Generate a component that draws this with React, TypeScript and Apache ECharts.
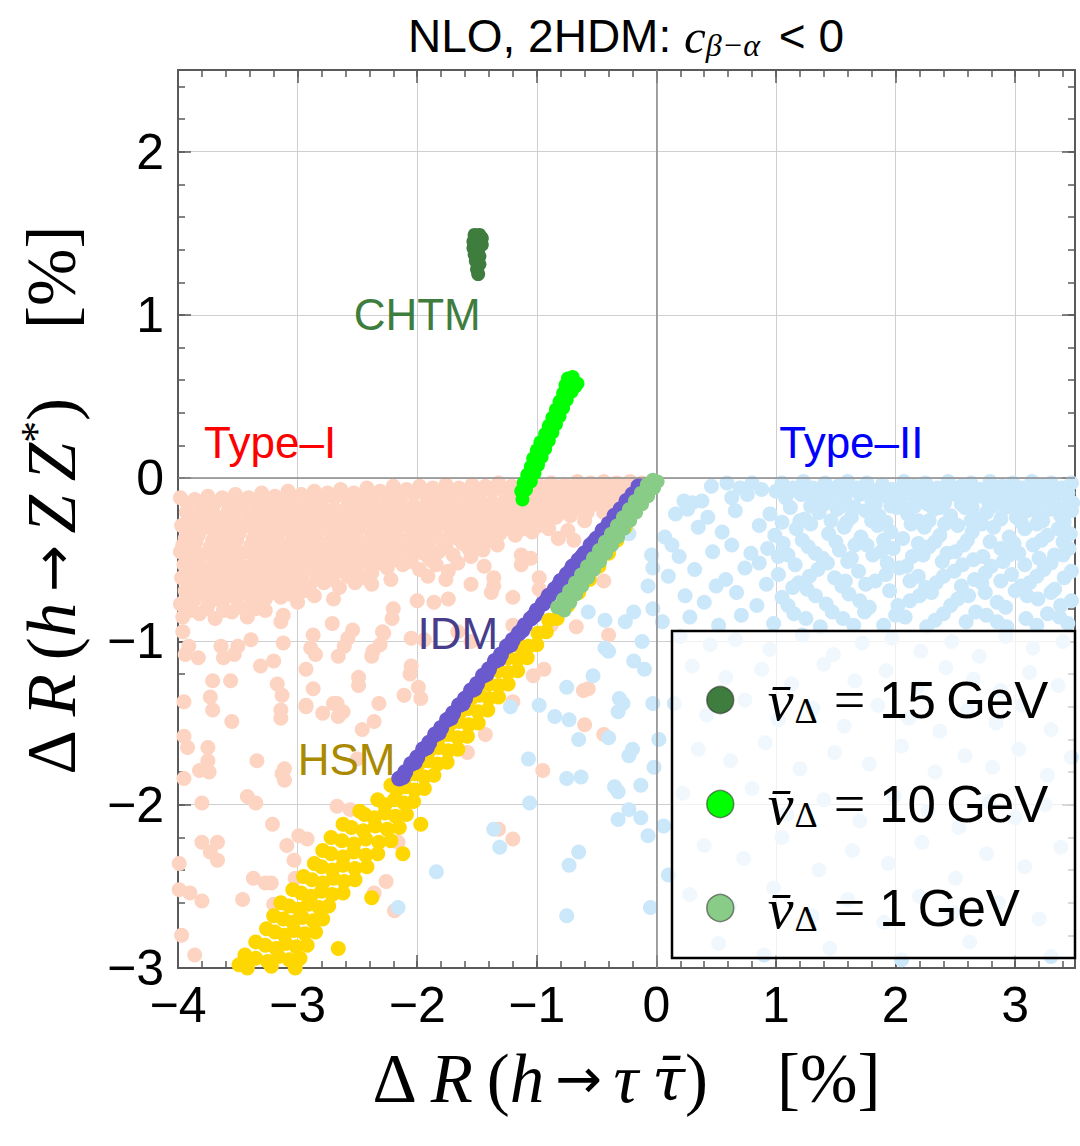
import React, { useEffect, useRef } from 'react';
import * as echarts from 'echarts';

const SERIF = "'Liberation Serif', 'DejaVu Serif', serif";
const SANS = "'Liberation Sans', Arial, sans-serif";

// Axis ranges and labelled ticks
const X_RANGE = [-4, 3.5];
const Y_RANGE = [-3, 2.5];
const X_TICK_VALUES = [-4, -3, -2, -1, 0, 1, 2, 3];
const Y_TICK_VALUES = [-3, -2, -1, 0, 1, 2];

// Type-I 2HDM scan points: dense band below zero plus a sparse tail
const TYPE_I_POINTS: [number, number][] = [
  [-3.98,-0.12],[-3.86,-0.13],[-3.75,-0.11],[-3.63,-0.12],[-3.52,-0.10],[-3.41,-0.12],[-3.30,-0.09],[-3.19,-0.11],[-3.08,-0.08],[-2.97,-0.10],[-2.86,-0.08],[-2.75,-0.09],[-2.64,-0.07],[-2.53,-0.09],[-2.42,-0.06],[-2.31,-0.08],[-2.20,-0.05],[-2.09,-0.07],[-1.98,-0.05],[-1.87,-0.06],[-1.76,-0.04],[-1.65,-0.06],[-1.54,-0.04],[-1.43,-0.05],[-1.32,-0.03],[-1.21,-0.05],[-1.10,-0.03],[-0.99,-0.04],[-0.88,-0.03],[-0.77,-0.04],[-0.66,-0.02],[-0.55,-0.03],[-0.44,-0.02],[-0.33,-0.03],[-0.22,-0.02],[-0.12,-0.03],
  [-3.92,-0.16],[-3.80,-0.17],[-3.69,-0.15],[-3.57,-0.16],[-3.46,-0.14],[-3.35,-0.16],[-3.24,-0.14],[-3.13,-0.13],[-3.02,-0.14],[-2.91,-0.12],[-2.80,-0.13],[-2.69,-0.12],[-2.58,-0.13],[-2.47,-0.11],[-2.36,-0.12],[-2.25,-0.10],[-2.14,-0.11],[-2.03,-0.10],[-1.92,-0.10],[-1.81,-0.09],[-1.70,-0.10],[-1.59,-0.08],[-1.48,-0.09],[-1.37,-0.08],[-1.26,-0.08],[-1.15,-0.07],[-1.04,-0.08],[-0.93,-0.06],[-0.82,-0.06],[-0.71,-0.07],[-0.60,-0.05],[-0.49,-0.06],[-0.38,-0.04],[-0.27,-0.04],[-0.17,-0.05],
  [-3.93,-0.21],[-3.81,-0.19],[-3.70,-0.22],[-3.58,-0.20],[-3.47,-0.18],[-3.36,-0.21],[-3.24,-0.19],[-3.13,-0.17],[-3.02,-0.20],[-2.91,-0.18],[-2.80,-0.16],[-2.69,-0.19],[-2.58,-0.17],[-2.47,-0.15],[-2.36,-0.18],[-2.25,-0.16],[-2.14,-0.14],[-2.03,-0.17],[-1.92,-0.15],[-1.81,-0.13],[-1.70,-0.16],[-1.59,-0.14],[-1.48,-0.12],[-1.37,-0.15],[-1.26,-0.13],[-1.15,-0.11],[-1.04,-0.13],[-0.93,-0.11],[-0.82,-0.10],[-0.71,-0.12],[-0.60,-0.09],[-0.49,-0.10],[-0.38,-0.08],[-0.27,-0.07],[-0.18,-0.09],[-0.30,-0.12],[-0.40,-0.16],
  [-3.88,-0.25],[-3.76,-0.24],[-3.64,-0.26],[-3.53,-0.23],[-3.41,-0.25],[-3.30,-0.23],[-3.19,-0.21],[-3.08,-0.24],[-2.97,-0.22],[-2.86,-0.20],[-2.75,-0.23],[-2.64,-0.21],[-2.53,-0.19],[-2.42,-0.22],[-2.31,-0.20],[-2.20,-0.18],[-2.09,-0.21],[-1.98,-0.19],[-1.87,-0.17],[-1.76,-0.20],[-1.65,-0.18],[-1.54,-0.16],[-1.43,-0.19],[-1.32,-0.17],[-1.21,-0.15],[-1.10,-0.17],[-0.99,-0.15],[-0.88,-0.14],[-0.77,-0.14],[-0.66,-0.12],[-0.55,-0.13],[-0.44,-0.10],[-0.34,-0.09],
  [-3.97,-0.29],[-3.86,-0.27],[-3.74,-0.30],[-3.63,-0.28],[-3.52,-0.26],[-3.40,-0.29],[-3.29,-0.27],[-3.18,-0.25],[-3.07,-0.28],[-2.96,-0.26],[-2.85,-0.24],[-2.74,-0.27],[-2.63,-0.25],[-2.52,-0.23],[-2.41,-0.26],[-2.30,-0.24],[-2.19,-0.22],[-2.08,-0.25],[-1.97,-0.23],[-1.86,-0.21],[-1.75,-0.24],[-1.64,-0.22],[-1.53,-0.20],[-1.42,-0.23],[-1.31,-0.21],[-1.20,-0.19],[-1.09,-0.21],[-0.98,-0.19],[-0.87,-0.17],[-0.76,-0.18],[-0.65,-0.15],[-0.54,-0.16],[-0.43,-0.13],
  [-3.91,-0.33],[-3.80,-0.31],[-3.68,-0.34],[-3.57,-0.32],[-3.46,-0.30],[-3.35,-0.33],[-3.23,-0.31],[-3.12,-0.29],[-3.01,-0.32],[-2.90,-0.30],[-2.79,-0.28],[-2.68,-0.31],[-2.57,-0.29],[-2.46,-0.27],[-2.35,-0.30],[-2.24,-0.28],[-2.13,-0.26],[-2.02,-0.29],[-1.91,-0.27],[-1.80,-0.25],[-1.69,-0.28],[-1.58,-0.26],[-1.47,-0.24],[-1.36,-0.26],[-1.25,-0.24],[-1.14,-0.24],[-1.03,-0.23],[-0.92,-0.23],[-0.81,-0.21],[-0.70,-0.20],[-0.60,-0.18],[-0.50,-0.16],
  [-3.94,-0.37],[-3.83,-0.35],[-3.71,-0.38],[-3.60,-0.36],[-3.49,-0.34],[-3.37,-0.37],[-3.26,-0.35],[-3.15,-0.33],[-3.04,-0.36],[-2.93,-0.34],[-2.82,-0.32],[-2.71,-0.35],[-2.60,-0.33],[-2.49,-0.31],[-2.38,-0.34],[-2.27,-0.32],[-2.16,-0.30],[-2.05,-0.33],[-1.94,-0.31],[-1.83,-0.29],[-1.72,-0.32],[-1.61,-0.30],[-1.50,-0.28],[-1.39,-0.30],[-1.28,-0.27],[-1.17,-0.28],[-1.06,-0.26],[-0.95,-0.27],[-0.84,-0.24],[-0.72,-0.23],[-0.58,-0.21],
  [-3.96,-0.41],[-3.85,-0.39],[-3.73,-0.42],[-3.62,-0.40],[-3.51,-0.38],[-3.39,-0.41],[-3.28,-0.39],[-3.17,-0.37],[-3.06,-0.40],[-2.95,-0.38],[-2.84,-0.36],[-2.73,-0.39],[-2.62,-0.37],[-2.51,-0.35],[-2.40,-0.38],[-2.29,-0.36],[-2.18,-0.34],[-2.07,-0.37],[-1.96,-0.35],[-1.85,-0.33],[-1.74,-0.36],[-1.63,-0.33],[-1.52,-0.32],[-1.40,-0.33],[-1.25,-0.31],[-1.12,-0.31],[-0.98,-0.29],
  [-3.98,-0.45],[-3.87,-0.43],[-3.76,-0.46],[-3.64,-0.44],[-3.53,-0.42],[-3.42,-0.45],[-3.31,-0.43],[-3.20,-0.41],[-3.09,-0.44],[-2.98,-0.42],[-2.87,-0.40],[-2.76,-0.43],[-2.65,-0.41],[-2.54,-0.39],[-2.43,-0.42],[-2.32,-0.40],[-2.21,-0.38],[-2.10,-0.41],[-1.99,-0.39],[-1.88,-0.37],[-1.77,-0.40],[-1.66,-0.37],[-1.55,-0.35],[-1.43,-0.37],[-1.31,-0.34],[-1.18,-0.35],[-1.04,-0.33],[-0.90,-0.31],
  [-3.92,-0.49],[-3.81,-0.47],[-3.69,-0.50],[-3.58,-0.48],[-3.47,-0.46],[-3.35,-0.49],[-3.24,-0.47],[-3.13,-0.45],[-3.02,-0.48],[-2.91,-0.46],[-2.80,-0.44],[-2.69,-0.47],[-2.58,-0.45],[-2.47,-0.43],[-2.36,-0.46],[-2.25,-0.44],[-2.14,-0.42],[-2.02,-0.45],[-1.90,-0.42],[-1.76,-0.42],[-1.62,-0.40],[-1.50,-0.40],[-1.38,-0.38],
  [-3.95,-0.53],[-3.84,-0.51],[-3.72,-0.54],[-3.61,-0.52],[-3.50,-0.50],[-3.38,-0.53],[-3.27,-0.51],[-3.16,-0.49],[-3.05,-0.52],[-2.94,-0.50],[-2.83,-0.48],[-2.72,-0.51],[-2.61,-0.49],[-2.50,-0.47],[-2.39,-0.50],[-2.28,-0.48],[-2.17,-0.46],[-2.06,-0.49],[-1.95,-0.46],[-1.82,-0.45],[-1.70,-0.47],[-1.57,-0.43],[-1.45,-0.44],[-1.33,-0.41],
  [-3.91,-0.57],[-3.80,-0.55],[-3.68,-0.58],[-3.57,-0.56],[-3.46,-0.54],[-3.34,-0.57],[-3.23,-0.55],[-3.12,-0.53],[-3.01,-0.56],[-2.90,-0.54],[-2.79,-0.52],[-2.68,-0.55],[-2.56,-0.53],[-2.44,-0.51],[-2.31,-0.52],[-2.19,-0.50],[-2.05,-0.51],[-1.90,-0.49],
  [-3.97,-0.61],[-3.86,-0.59],[-3.74,-0.62],[-3.63,-0.60],[-3.52,-0.58],[-3.40,-0.61],[-3.29,-0.59],[-3.18,-0.57],[-3.07,-0.60],[-2.96,-0.58],[-2.85,-0.56],[-2.74,-0.59],[-2.62,-0.57],[-2.50,-0.55],[-2.38,-0.58],[-2.25,-0.55],[-2.12,-0.53],[-1.98,-0.56],[-1.84,-0.53],[-1.66,-0.52],
  [-3.90,-0.65],[-3.78,-0.63],[-3.66,-0.66],[-3.55,-0.64],[-3.43,-0.62],[-3.32,-0.65],[-3.20,-0.62],[-3.08,-0.62],[-2.96,-0.63],[-2.84,-0.60],[-2.71,-0.62],[-2.58,-0.60],[-2.45,-0.61],
  [-3.94,-0.69],[-3.83,-0.67],[-3.71,-0.70],[-3.60,-0.68],[-3.49,-0.66],[-3.37,-0.69],[-3.26,-0.67],[-3.14,-0.65],[-3.02,-0.68],[-2.90,-0.66],[-2.78,-0.64],[-2.65,-0.67],[-2.52,-0.64],[-2.38,-0.65],[-2.22,-0.62],
  [-3.92,-0.73],[-3.80,-0.71],[-3.68,-0.74],[-3.56,-0.72],[-3.44,-0.70],[-3.32,-0.72],[-3.20,-0.70],[-3.07,-0.71],[-2.94,-0.69],
  [-3.98,-0.77],[-3.87,-0.75],[-3.75,-0.78],[-3.63,-0.76],[-3.51,-0.74],[-3.39,-0.77],[-3.27,-0.74],[-3.14,-0.73],[-3.00,-0.76],[-2.86,-0.72],[-2.70,-0.74],
  [-3.90,-0.81],[-3.76,-0.80],[-3.62,-0.81],[-3.49,-0.79],[-3.35,-0.80],
  [-3.96,-0.85],[-3.82,-0.83],[-3.69,-0.86],[-3.55,-0.82],[-3.42,-0.85],[-3.27,-0.81],[-3.12,-0.84],
  [-1.87,-0.51],[-1.55,-0.48],[-1.44,-0.54],[-1.20,-0.73],[-1.13,-0.53],[-1.05,-0.49],[-0.98,-0.61],[-0.82,-0.37],[-0.69,-0.38],[-0.67,-0.91],[-0.57,-1.29],[-0.44,-0.21],[-0.44,-0.63],[-0.40,-0.96],[-0.94,-1.17],[-1.03,-1.21],[-1.38,-0.70],[-1.36,-0.66],[-1.55,-0.65],[-1.74,-0.57],[-1.76,-0.62],[-1.91,-0.60],[-2.00,-0.75],[-1.86,-0.76],[-1.74,-0.74],[-2.05,-0.98],[-1.94,-0.99],[-2.20,-0.80],[-2.21,-0.86],[-2.29,-0.94],[-2.37,-1.06],[-2.31,-1.02],[-2.54,-0.93],[-2.58,-0.98],[-2.61,-1.03],[-2.66,-1.09],[-2.71,-0.89],[-2.87,-0.96],[-2.89,-1.04],[-2.85,-1.08],[-2.93,-1.17],[-3.12,-1.01],[-3.14,-0.88],[-3.20,-1.12],[-3.31,-1.15],[-3.39,-0.99],[-3.50,-1.03],[-3.53,-1.08],[-3.62,-1.10],[-3.64,-1.03],[-3.71,-1.24],[-3.83,-1.10],[-3.91,-1.03],[-3.94,-1.08],[-3.96,-0.94],[-3.95,-1.37],[-3.73,-1.34],[-3.56,-1.24],[-3.17,-1.26],[-3.13,-1.33],[-2.93,-1.39],[-2.87,-1.29],[-2.70,-1.38],[-2.49,-1.22],[-2.49,-1.27],[-2.05,-1.15],[-2.06,-1.20],[-1.99,-1.28],[-2.11,-1.33],[-1.97,-1.35],[-2.28,-0.95],[-2.38,-1.09],[-1.55,-1.00],[-1.66,-0.94],[-0.88,-0.90],[-0.98,-0.68],[-1.13,-0.47],[-1.36,-0.61],[-1.20,-0.90],[-0.61,-1.30],[-0.61,-0.20],[-0.74,-0.32],[-0.60,-0.26],
  [-3.71,-1.42],[-3.95,-1.58],[-3.92,-1.65],[-3.75,-1.65],[-3.75,-1.73],[-3.82,-1.79],[-3.74,-1.80],[-3.95,-1.84],[-3.55,-1.49],[-3.14,-1.42],[-3.14,-1.47],[-2.93,-1.40],[-2.79,-1.44],[-2.67,-1.38],[-2.62,-1.43],[-2.66,-1.46],[-2.32,-1.38],[-2.36,-1.49],[-2.46,-1.54],[-2.50,-1.72],[-3.34,-1.73],[-3.13,-1.81],[-3.11,-1.85],[-3.11,-1.78],[-3.42,-1.95],[-3.35,-1.99],[-3.80,-1.99],[-3.21,-2.12],[-3.09,-2.25],[-2.99,-2.19],[-2.92,-2.21],[-3.03,-2.34],[-3.80,-2.23],[-3.67,-2.23],[-3.73,-2.29],[-3.67,-2.34],[-3.99,-2.36],[-3.37,-2.45],[-3.27,-2.48],[-3.22,-2.48],[-3.02,-2.45],[-3.90,-2.54],[-3.80,-2.59],[-3.46,-2.58],[-3.20,-2.61],[-3.99,-2.52],[-2.67,-2.01],[-2.56,-2.03],[-2.16,-2.23],[-2.26,-2.47],[-2.36,-2.54],[-2.19,-2.65],[-1.58,-1.68],[-1.43,-1.57],[-1.20,-1.37],[-0.60,-1.51],[-0.44,-1.57],[-0.95,-1.79],[-1.32,-2.15],[-1.20,-2.21],[-3.97,-2.80],[-3.86,-2.92]
];

// Type-II 2HDM scan points
const TYPE_II_POINTS: [number, number][] = [
  [0.46,-0.05],[0.59,-0.03],[0.70,-0.06],[0.80,-0.03],[0.88,-0.07],[1.05,-0.03],[1.14,-0.06],[1.23,-0.02],[1.31,-0.06],[1.41,-0.03],[1.52,-0.05],[1.60,-0.02],[1.68,-0.06],[1.76,-0.03],[1.89,-0.04],[1.97,-0.07],[2.07,-0.02],[2.16,-0.05],[2.25,-0.03],[2.35,-0.06],[2.44,-0.02],[2.55,-0.05],[2.63,-0.03],[2.71,-0.07],[2.79,-0.02],[2.89,-0.05],[2.98,-0.03],[3.06,-0.06],[3.14,-0.02],[3.22,-0.05],[3.30,-0.03],[3.39,-0.06],[3.47,-0.03],
  [1.00,-0.08],[1.10,-0.09],[1.19,-0.07],[1.28,-0.09],[1.37,-0.08],[1.47,-0.08],[1.56,-0.09],[1.64,-0.07],[1.73,-0.09],[1.84,-0.08],[1.93,-0.09],[2.03,-0.07],[2.12,-0.09],[2.20,-0.08],[2.30,-0.09],[2.39,-0.07],[2.49,-0.09],[2.58,-0.08],[2.67,-0.08],[2.75,-0.10],[2.84,-0.08],[2.93,-0.09],[3.02,-0.08],[3.10,-0.09],[3.18,-0.08],[3.27,-0.09],[3.35,-0.08],[3.44,-0.09],
  [0.30,-0.15],[0.63,-0.12],[0.76,-0.10],[1.08,-0.12],[1.21,-0.10],[1.33,-0.13],[1.46,-0.11],[1.58,-0.14],[1.70,-0.10],[1.80,-0.13],[1.92,-0.11],[2.02,-0.14],[2.12,-0.10],[2.21,-0.13],[2.31,-0.11],[2.41,-0.15],[2.50,-0.10],[2.60,-0.13],[2.69,-0.11],[2.78,-0.15],[2.87,-0.11],[2.96,-0.13],[3.05,-0.10],[3.14,-0.14],[3.23,-0.11],[3.32,-0.13],[3.42,-0.10],[3.48,-0.15],[0.23,-0.14],[0.38,-0.14],
  [1.29,-0.17],[1.40,-0.16],[1.55,-0.17],[1.66,-0.18],[1.83,-0.16],[1.96,-0.17],[2.06,-0.18],[2.16,-0.17],[2.27,-0.16],[2.37,-0.18],[2.55,-0.16],[2.64,-0.18],[2.82,-0.17],[2.97,-0.16],[3.06,-0.18],[3.16,-0.17],[3.26,-0.16],[3.35,-0.18],[3.44,-0.17],
  [0.16,-0.22],[0.26,-0.19],[0.43,-0.24],[0.66,-0.20],[0.95,-0.22],[1.12,-0.18],[1.24,-0.25],[1.36,-0.21],[1.51,-0.19],[1.63,-0.24],[1.75,-0.20],[1.86,-0.23],[2.01,-0.18],[2.10,-0.22],[2.19,-0.26],[2.32,-0.19],[2.46,-0.23],[2.58,-0.18],[2.67,-0.25],[2.76,-0.21],[2.92,-0.18],[3.01,-0.24],[3.10,-0.20],[3.20,-0.24],[3.29,-0.19],[3.38,-0.23],[3.47,-0.20],
  [1.05,-0.27],[1.20,-0.26],[1.46,-0.26],[1.59,-0.27],[1.80,-0.26],[1.92,-0.27],[2.13,-0.28],[2.28,-0.26],[2.41,-0.28],[2.63,-0.26],[2.72,-0.28],[2.88,-0.25],[3.05,-0.27],[3.23,-0.26],[3.41,-0.27],
  [0.07,-0.36],[0.35,-0.30],[0.55,-0.33],[0.86,-0.29],[0.99,-0.35],[1.17,-0.31],[1.29,-0.28],[1.44,-0.34],[1.57,-0.30],[1.71,-0.36],[1.85,-0.29],[1.96,-0.33],[2.06,-0.37],[2.24,-0.30],[2.37,-0.35],[2.52,-0.29],[2.64,-0.33],[2.82,-0.30],[2.95,-0.36],[3.08,-0.31],[3.18,-0.28],[3.27,-0.35],[3.36,-0.31],[3.46,-0.34],
  [1.06,-0.40],[1.22,-0.38],[1.50,-0.39],[1.76,-0.41],[1.90,-0.38],[2.19,-0.40],[2.33,-0.39],[2.60,-0.38],[2.79,-0.39],[2.99,-0.40],[3.22,-0.38],[3.40,-0.39],
  [0.13,-0.41],[0.19,-0.48],[0.47,-0.45],[0.63,-0.41],[0.79,-0.46],[0.93,-0.43],[1.10,-0.47],[1.27,-0.42],[1.39,-0.49],[1.53,-0.44],[1.66,-0.41],[1.81,-0.47],[1.98,-0.43],[2.14,-0.48],[2.28,-0.42],[2.43,-0.46],[2.57,-0.41],[2.73,-0.48],[2.88,-0.43],[3.03,-0.46],[3.15,-0.41],[3.33,-0.47],[3.45,-0.43],
  [1.02,-0.48],[1.33,-0.46],[1.63,-0.49],[1.88,-0.45],[2.23,-0.47],[2.50,-0.45],[2.65,-0.50],[2.95,-0.47],[3.20,-0.49],[3.40,-0.47],
  [0.86,-0.52],[1.16,-0.53],[1.43,-0.52],[1.60,-0.51],[1.93,-0.52],[2.09,-0.54],[2.39,-0.51],[2.56,-0.53],[2.90,-0.51],[3.08,-0.53],[3.30,-0.52],
  [0.10,-0.60],[0.32,-0.56],[0.58,-0.62],[0.74,-0.55],[1.02,-0.59],[1.19,-0.64],[1.35,-0.56],[1.49,-0.61],[1.69,-0.57],[1.83,-0.63],[2.03,-0.55],[2.19,-0.60],[2.34,-0.64],[2.49,-0.57],[2.66,-0.62],[2.80,-0.54],[2.97,-0.59],[3.12,-0.64],[3.24,-0.56],[3.41,-0.61],
  [1.28,-0.60],[1.58,-0.63],[1.92,-0.59],[2.12,-0.63],[2.40,-0.60],[2.75,-0.58],[2.88,-0.63],[3.18,-0.60],[3.47,-0.57],
  [0.50,-0.66],[0.92,-0.65],[1.14,-0.67],[1.55,-0.66],[1.75,-0.65],[2.25,-0.67],[2.55,-0.66],[2.72,-0.64],[3.05,-0.66],[3.33,-0.68],
  [0.24,-0.72],[0.40,-0.76],[0.67,-0.70],[0.84,-0.78],[1.05,-0.73],[1.26,-0.68],[1.42,-0.77],[1.61,-0.71],[1.78,-0.79],[1.95,-0.69],[2.12,-0.75],[2.30,-0.70],[2.46,-0.78],[2.61,-0.72],[2.85,-0.76],[3.00,-0.69],[3.19,-0.74],[3.38,-0.78],
  [1.10,-0.78],[1.33,-0.72],[1.70,-0.75],[2.02,-0.78],[2.20,-0.72],[2.52,-0.74],[2.75,-0.70],[2.92,-0.79],[3.10,-0.72],[3.30,-0.70],[3.47,-0.75],
  [0.05,-0.88],[0.28,-0.85],[0.52,-0.90],[0.71,-0.84],[0.98,-0.89],[1.15,-0.83],[1.37,-0.91],[1.56,-0.86],[1.74,-0.82],[1.90,-0.90],[2.08,-0.85],[2.26,-0.91],[2.40,-0.83],[2.59,-0.88],[2.76,-0.84],[2.93,-0.91],[3.09,-0.86],[3.27,-0.83],[3.44,-0.89],
  [1.25,-0.86],[1.47,-0.82],[1.65,-0.90],[2.00,-0.84],[2.33,-0.87],[2.67,-0.82],[2.85,-0.88],[3.18,-0.90],[3.37,-0.85],
  [0.20,-0.97],[0.45,-1.02],[0.66,-0.99],[0.95,-1.05],[1.22,-0.96],[1.48,-1.08],[1.72,-1.01],[1.97,-0.98],[2.21,-1.06],[2.47,-1.00],[2.70,-1.09],[2.92,-0.97],[3.15,-1.04],[3.40,-1.00],
  [0.30,-1.15],[0.58,-1.22],[0.88,-1.17],[1.13,-1.26],[1.40,-1.14],[1.66,-1.24],[1.92,-1.18],[2.18,-1.28],[2.42,-1.16],[2.65,-1.23],[2.88,-1.30],[3.12,-1.19],[3.36,-1.27],
  [0.15,-1.38],[0.42,-1.45],[0.74,-1.36],[1.02,-1.48],[1.31,-1.41],[1.57,-1.52],[1.85,-1.39],[2.11,-1.47],[2.37,-1.55],[2.60,-1.42],[2.84,-1.50],[3.06,-1.39],[3.30,-1.54],
  [0.35,-1.66],[0.62,-1.73],[0.91,-1.62],[1.20,-1.78],[1.49,-1.68],[1.78,-1.75],[2.05,-1.64],[2.33,-1.80],[2.58,-1.70],[2.81,-1.77],[3.03,-1.66],[3.27,-1.82],[3.47,-1.71],
  [0.22,-1.93],[0.50,-2.01],[0.80,-1.90],[1.09,-2.06],[1.40,-1.97],[1.70,-2.10],[1.99,-1.95],[2.27,-2.04],[2.53,-2.14],[2.78,-1.98],[3.00,-2.08],[3.25,-2.00],
  [0.40,-2.25],[0.73,-2.33],[1.05,-2.20],[1.36,-2.40],[1.64,-2.28],[1.94,-2.36],[2.22,-2.23],[2.50,-2.45],[2.76,-2.30],[3.08,-2.38],[3.38,-2.26],
  [0.28,-2.55],[0.61,-2.62],[0.98,-2.51],[1.30,-2.68],[1.60,-2.58],[1.90,-2.72],[2.20,-2.56],[2.48,-2.66],[2.86,-2.60],[3.20,-2.70],
  [0.52,-2.85],[0.90,-2.92],[1.45,-2.88],[2.05,-2.95],[2.62,-2.84],[3.30,-2.93],
  [-0.23,-0.34],[-0.04,-0.47],[-0.03,-0.55],[-0.07,-0.66],[-0.19,-0.82],[-0.03,-0.80],[-0.57,-0.82],[-0.43,-0.87],[-0.26,-0.88],[-0.12,-1.00],[-0.43,-1.04],[-0.40,-1.06],[-0.19,-1.12],[-0.10,-1.17],[-0.53,-1.21],[-0.75,-1.28],[-0.31,-1.35],[-0.28,-1.38],[-0.03,-1.38],[-1.22,-1.40],[-0.98,-1.39],[-0.85,-1.46],[-0.73,-1.48],[-0.65,-1.60],[-0.40,-1.59],[-0.32,-1.43],[0.02,-1.60],[-1.07,-1.72],[-0.75,-1.84],[-0.63,-1.83],[-0.23,-1.70],[-0.20,-1.66],[-0.02,-1.77],[-0.35,-1.89],[-0.32,-1.92],[-0.13,-1.88],[-1.06,-1.99],[-0.23,-2.03],[-0.32,-2.09],[-0.13,-2.08],[0.06,-2.13],[-1.36,-2.15],[-1.31,-2.26],[-0.07,-2.19],[-0.65,-2.29],[-0.73,-2.37],[-1.84,-2.41],[0.10,-2.43],[-2.16,-2.63],[-0.75,-2.68],[-0.05,-2.63]
];

// HSM points
const HSM_POINTS: [number, number][] = [
  [-0.26,-0.30],[-0.33,-0.38],[-0.40,-0.46],[-0.48,-0.54],[-0.56,-0.62],[-0.65,-0.70],
  [-0.74,-0.78],[-0.80,-0.79],[-0.83,-0.86],[-0.90,-0.87],[-0.92,-0.94],[-0.99,-0.95],
  [-1.00,-1.02],[-1.07,-1.03],[-1.14,-1.03],
  [-1.08,-1.10],[-1.16,-1.11],[-1.24,-1.10],
  [-1.16,-1.18],[-1.24,-1.19],[-1.32,-1.18],
  [-1.24,-1.26],[-1.32,-1.27],[-1.40,-1.26],
  [-1.32,-1.34],[-1.40,-1.35],[-1.48,-1.33],[-1.55,-1.35],
  [-1.41,-1.42],[-1.49,-1.43],[-1.57,-1.41],[-1.64,-1.43],
  [-1.49,-1.50],[-1.57,-1.51],[-1.65,-1.49],[-1.73,-1.51],
  [-1.58,-1.58],[-1.66,-1.59],[-1.74,-1.57],[-1.82,-1.59],
  [-1.66,-1.66],[-1.74,-1.67],[-1.82,-1.65],[-1.90,-1.67],
  [-1.75,-1.74],[-1.83,-1.75],[-1.91,-1.73],[-1.99,-1.75],
  [-1.86,-1.82],[-1.94,-1.83],[-2.02,-1.81],[-2.10,-1.83],
  [-1.94,-1.90],[-2.02,-1.91],[-2.10,-1.89],[-2.17,-1.91],[-2.22,-1.88],
  [-2.03,-1.98],[-2.11,-1.99],[-2.19,-1.97],[-2.27,-2.00],[-2.33,-1.97],
  [-2.09,-2.06],[-2.18,-2.07],[-2.27,-2.05],[-2.36,-2.08],[-2.44,-2.06],[-2.48,-2.04],
  [-2.15,-2.14],[-2.25,-2.15],[-2.35,-2.13],[-2.45,-2.16],[-2.55,-2.14],[-2.62,-2.12],
  [-2.22,-2.22],[-2.32,-2.23],[-2.43,-2.21],[-2.53,-2.24],[-2.63,-2.22],[-2.72,-2.20],
  [-2.33,-2.30],[-2.43,-2.31],[-2.53,-2.29],[-2.62,-2.32],[-2.72,-2.30],[-2.79,-2.28],
  [-2.42,-2.38],[-2.52,-2.39],[-2.62,-2.37],[-2.71,-2.40],[-2.80,-2.38],[-2.86,-2.36],
  [-2.52,-2.46],[-2.61,-2.47],[-2.70,-2.45],[-2.79,-2.48],[-2.88,-2.46],[-2.95,-2.44],
  [-2.62,-2.54],[-2.71,-2.55],[-2.80,-2.53],[-2.89,-2.56],[-2.97,-2.54],[-3.04,-2.52],
  [-2.74,-2.62],[-2.82,-2.63],[-2.91,-2.61],[-2.99,-2.64],[-3.07,-2.62],[-3.14,-2.60],
  [-2.79,-2.70],[-2.87,-2.71],[-2.96,-2.69],[-3.04,-2.72],[-3.12,-2.70],[-3.20,-2.68],
  [-2.85,-2.78],[-2.94,-2.79],[-3.03,-2.77],[-3.11,-2.80],[-3.19,-2.78],[-3.26,-2.76],
  [-2.92,-2.86],[-3.01,-2.87],[-3.10,-2.85],[-3.18,-2.88],[-3.27,-2.86],[-3.35,-2.84],
  [-2.98,-2.94],[-3.07,-2.95],[-3.16,-2.93],[-3.25,-2.96],[-3.35,-2.94],[-3.44,-2.92],
  [-3.02,-3.00],[-3.12,-3.01],[-3.22,-2.99],[-3.32,-3.02],[-3.42,-3.00],[-3.49,-2.98],
  [-1.97,-2.12],[-2.12,-2.30],[-2.38,-2.57],[-2.66,-2.88]
];

// IDM points
const IDM_POINTS: [number, number][] = [
  [-2.15,-1.84],[-2.10,-1.80],[-2.05,-1.75],[-2.00,-1.71],[-1.95,-1.66],[-1.90,-1.62],[-1.85,-1.57],[-1.80,-1.53],[-1.75,-1.48],[-1.70,-1.44],[-1.65,-1.39],[-1.60,-1.35],[-1.55,-1.30],[-1.50,-1.26],[-1.45,-1.21],[-1.40,-1.17],[-1.35,-1.12],[-1.30,-1.08],[-1.25,-1.03],[-1.20,-0.99],[-1.15,-0.95],[-1.10,-0.90],[-1.05,-0.86],[-1.00,-0.81],[-0.95,-0.77],[-0.90,-0.72],[-0.85,-0.68],[-0.80,-0.63],[-0.75,-0.59],[-0.70,-0.54],[-0.65,-0.50],[-0.60,-0.46],[-0.55,-0.41],[-0.50,-0.37],[-0.45,-0.32],[-0.40,-0.28],[-0.35,-0.23],[-0.30,-0.19],[-0.25,-0.14],[-0.20,-0.10],[-0.15,-0.05],
  [-2.12,-1.83],[-2.02,-1.74],[-1.92,-1.65],[-1.82,-1.56],[-1.72,-1.47],[-1.62,-1.38],[-1.52,-1.29],[-1.42,-1.20],[-1.32,-1.11],[-1.22,-1.02],[-1.12,-0.93],[-1.02,-0.84],[-0.92,-0.75],[-0.82,-0.66],[-0.72,-0.57],[-0.62,-0.48],[-0.52,-0.39],[-0.42,-0.31],[-0.32,-0.22],[-0.22,-0.13]
];

// CHTM points for three triplet vevs (GeV)
const CHTM_VEV = ['15', '10', '1'];
const CHTM_V1_POINTS: [number, number][] = [
  [-0.83,-0.79],[-0.77,-0.81],[-0.78,-0.74],[-0.72,-0.76],[-0.73,-0.69],[-0.67,-0.71],[-0.68,-0.64],[-0.62,-0.66],[-0.63,-0.59],[-0.57,-0.61],[-0.58,-0.54],[-0.52,-0.56],[-0.53,-0.49],[-0.47,-0.51],[-0.48,-0.44],[-0.42,-0.46],[-0.43,-0.39],[-0.37,-0.41],[-0.38,-0.34],[-0.32,-0.36],[-0.33,-0.29],[-0.27,-0.31],[-0.28,-0.24],[-0.22,-0.26],[-0.23,-0.19],[-0.17,-0.21],[-0.18,-0.14],[-0.12,-0.16],[-0.13,-0.09],[-0.07,-0.11],[-0.08,-0.04],[-0.02,-0.06],[-0.03,-0.01],[0.01,-0.02]
];
const CHTM_V10_POINTS: [number, number][] = [
  [-1.12,-0.13],[-1.13,-0.08],[-1.09,-0.07],[-1.11,-0.03],[-1.05,-0.02],[-1.08,0.02],[-1.02,0.03],[-1.05,0.07],[-0.99,0.08],[-1.03,0.12],[-0.96,0.13],[-1.00,0.17],[-0.93,0.18],[-0.97,0.22],[-0.90,0.23],[-0.93,0.27],[-0.87,0.28],[-0.90,0.32],[-0.84,0.33],[-0.87,0.37],[-0.81,0.38],[-0.84,0.42],[-0.78,0.43],[-0.81,0.47],[-0.75,0.48],[-0.78,0.52],[-0.71,0.53],[-0.76,0.57],[-0.68,0.56],[-0.74,0.61],[-0.70,0.62],[-0.66,0.58]
];
const CHTM_V15_POINTS: [number, number][] = [
  [-1.52,1.49],[-1.48,1.49],[-1.46,1.47],[-1.53,1.45],[-1.49,1.45],[-1.46,1.43],[-1.53,1.41],[-1.49,1.40],[-1.52,1.37],[-1.48,1.36],[-1.51,1.33],[-1.48,1.31],[-1.50,1.28],[-1.49,1.25]
];

// Model name annotations, anchored in data coordinates
const ANNOTATIONS = [
  { text: 'Type\u2013I', at: [-3.23, 0.22], color: '#ff0000' },
  { text: 'Type\u2013II', at: [1.63, 0.22], color: '#0000ff' },
  { text: 'CHTM', at: [-2.0, 1.0], color: '#3e7d3e' },
  { text: 'IDM', at: [-1.66, -0.95], color: '#483d8b' },
  { text: 'HSM', at: [-2.59, -1.72], color: '#a98a00' },
];

const FRAME = '#5a5a5a';

const fmtTick = (allowed: number[]) => (v: number) => {
  const r = Math.round(v * 1000) / 1000;
  if (!allowed.includes(r)) return '';
  return r < 0 ? '\u2212' + Math.abs(r) : String(r);
};

function frameAxis(position: string, range: number[], interval: number, tickLen: number, line = false) {
  return {
    type: 'value',
    position,
    min: range[0],
    max: range[1],
    interval,
    axisLine: { show: line, onZero: false, lineStyle: { color: FRAME, width: 2 } },
    axisTick: { show: true, inside: true, length: tickLen, lineStyle: { color: FRAME, width: 1.5 } },
    axisLabel: { show: false },
    splitLine: { show: false },
  };
}

const NAME_SIZE = 69;
const axisNameRich = {
  up: { fontFamily: SERIF, fontSize: NAME_SIZE, color: '#000' },
  it: { fontFamily: SERIF, fontSize: NAME_SIZE, fontStyle: 'italic', color: '#000' },
  bar: { fontFamily: "'DejaVu Serif', serif", fontSize: 60, fontStyle: 'italic', color: '#000' },
  arr: { fontFamily: "'DejaVu Sans', sans-serif", fontSize: 56, color: '#000' },
  sup: { fontFamily: SERIF, fontSize: 44, color: '#000', padding: [0, 0, 32, 0] },
};

function buildOption() {
  const scatter = (name: string, data: [number, number][], color: string, size: number, z = 2) => ({
    name,
    type: 'scatter',
    data,
    symbol: 'circle',
    symbolSize: size,
    itemStyle: { color, opacity: 1 },
    silent: true,
    z,
  });

  return {
    animation: false,
    backgroundColor: '#ffffff',
    grid: { left: 178, right: 5, top: 70, bottom: 178, containLabel: false },
    xAxis: [
      {
        type: 'value',
        position: 'bottom',
        min: X_RANGE[0],
        max: X_RANGE[1],
        interval: 1,
        axisLine: { show: true, onZero: false, lineStyle: { color: FRAME, width: 2 } },
        axisTick: { show: true, inside: true, length: 13, lineStyle: { color: FRAME, width: 1.5 } },
        splitLine: { show: true, lineStyle: { color: '#cfcfcf', width: 1 } },
        axisLabel: {
          formatter: fmtTick(X_TICK_VALUES),
          fontFamily: SANS,
          fontSize: 50,
          color: '#000',
          margin: 12,
        },
        name: '{up|\u0394\u2009}{it|R}{up|\u2009(}{it|h}{arr|\u2009\u2192\u2009}{it|\u03c4\u2009}{bar|\u03c4\u0304}{up|)\u2003[%]}',
        nameLocation: 'middle',
        nameGap: 76,
        nameTextStyle: { rich: axisNameRich },
      },
      frameAxis('top', X_RANGE, 1, 13, true),
      frameAxis('bottom', X_RANGE, 0.2, 7),
      frameAxis('top', X_RANGE, 0.2, 7),
    ],
    yAxis: [
      {
        type: 'value',
        position: 'left',
        min: Y_RANGE[0],
        max: Y_RANGE[1],
        interval: 1,
        axisLine: { show: true, onZero: false, lineStyle: { color: FRAME, width: 2 } },
        axisTick: { show: true, inside: true, length: 13, lineStyle: { color: FRAME, width: 1.5 } },
        splitLine: { show: true, lineStyle: { color: '#cfcfcf', width: 1 } },
        axisLabel: {
          formatter: fmtTick(Y_TICK_VALUES),
          fontFamily: SANS,
          fontSize: 50,
          color: '#000',
          margin: 14,
        },
        name: '{up|\u0394\u2009}{it|R}{up|\u2009(}{it|h}{arr|\u2009\u2192\u2009}{it|Z\u2009Z}{sup|*}{up|)\u2003[%]}',
        nameLocation: 'middle',
        nameRotate: 90,
        nameGap: 88,
        nameTextStyle: { rich: axisNameRich, padding: [0, 0, 0, 38] },
      },
      frameAxis('right', Y_RANGE, 1, 13, true),
      frameAxis('left', Y_RANGE, 0.2, 7),
      frameAxis('right', Y_RANGE, 0.2, 7),
    ],
    legend: {
      data: CHTM_VEV,
      orient: 'vertical',
      left: 706,
      top: 671,
      padding: 0,
      itemWidth: 27,
      itemHeight: 27,
      itemGap: 46,
      icon: 'circle',
      selectedMode: false,
      z: 60,
      itemStyle: { borderColor: 'rgba(40,40,40,0.55)', borderWidth: 1.5 },
      formatter: (name: string) => `{v|v\u0304}{sub|\u0394}{eq|=}{num|${name}\u2009GeV}`,
      textStyle: {
        rich: {
          v: { fontFamily: SERIF, fontStyle: 'italic', fontSize: 58, lineHeight: 56, color: '#000', padding: [0, 0, 0, 29] },
          sub: { fontFamily: SERIF, fontSize: 36, lineHeight: 36, color: '#000', padding: [22, 0, 0, 1] },
          eq: { fontFamily: SERIF, fontSize: 56, lineHeight: 56, color: '#000', padding: [0, 14, 0, 16] },
          num: { fontFamily: SANS, fontSize: 51, lineHeight: 56, color: '#000' },
        },
      },
    },
    graphic: [
      {
        type: 'text',
        x: 626,
        y: 36,
        z: 100,
        style: {
          text: '{a|NLO, 2HDM: }{c|c}{s|\u03b2\u2212\u03b1}{a| < 0}',
          align: 'center',
          verticalAlign: 'middle',
          textAlign: 'center',
          textVerticalAlign: 'middle',
          rich: {
            a: { fontFamily: SANS, fontSize: 46, lineHeight: 50, fill: '#000', color: '#000' },
            c: { fontFamily: SERIF, fontStyle: 'italic', fontSize: 49, lineHeight: 50, fill: '#000', color: '#000' },
            s: { fontFamily: SERIF, fontStyle: 'italic', fontSize: 32, lineHeight: 32, fill: '#000', color: '#000', padding: [18, 6, 0, 0] },
          },
        },
      },
      {
        type: 'rect',
        z: 50,
        shape: { x: 672, y: 631, width: 403, height: 327 },
        style: { fill: 'rgba(255,255,255,0.7)', stroke: '#000', lineWidth: 2.5 },
      },
    ],
    series: [
      {
        ...scatter('Type-I', TYPE_I_POINTS, '#fdd3c2', 15),
        markLine: {
          silent: true,
          symbol: ['none', 'none'],
          label: { show: false },
          lineStyle: { color: '#8a8a8a', width: 1.5, type: 'solid' },
          data: [{ xAxis: 0 }, { yAxis: 0 }],
        },
      },
      scatter('Type-II', TYPE_II_POINTS, '#cbe7fa', 15),
      scatter('HSM', HSM_POINTS, '#ffd700', 15),
      scatter('IDM', IDM_POINTS, '#6a5acd', 16),
      scatter(CHTM_VEV[2], CHTM_V1_POINTS, '#88cc88', 14, 6),
      scatter(CHTM_VEV[1], CHTM_V10_POINTS, '#00ff00', 14, 6),
      scatter(CHTM_VEV[0], CHTM_V15_POINTS, '#3e7d3e', 14, 6),
      {
        name: 'labels',
        type: 'scatter',
        silent: true,
        symbolSize: 1,
        itemStyle: { color: 'rgba(0,0,0,0)', opacity: 1 },
        z: 8,
        label: { show: true, position: 'inside', fontFamily: SANS, fontSize: 44, opacity: 1 },
        data: ANNOTATIONS.map((a) => ({
          value: a.at,
          label: { formatter: a.text, color: a.color },
        })),
      },
    ],
  };
}

export default function App() {
  const ref = useRef<HTMLDivElement>(null);
  useEffect(() => {
    const chart = echarts.init(ref.current as HTMLDivElement, null, { renderer: 'svg' });
    chart.setOption(buildOption() as any);
    return () => chart.dispose();
  }, []);
  return (
    <div
      ref={ref}
      style={{ position: 'fixed', left: 0, top: 0, width: 1080, height: 1146, background: '#fff' }}
    />
  );
}
